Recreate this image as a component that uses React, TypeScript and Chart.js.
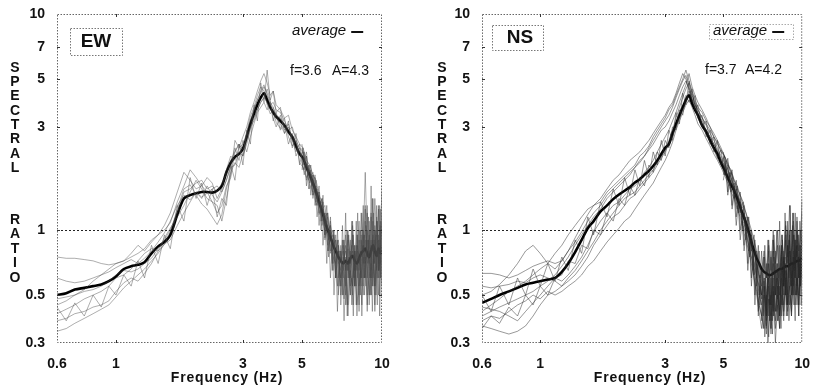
import React, { useEffect, useRef } from "react";
import { Chart, registerables } from "chart.js";
Chart.register(...registerables);

// Frequency grid (Hz) shared by the full-band traces
const F = [
  0.6, 0.65, 0.7, 0.76, 0.82, 0.88, 0.94, 1.0, 1.07, 1.14,
  1.21, 1.28, 1.36, 1.44, 1.52, 1.6, 1.7, 1.8, 1.9, 2.0,
  2.1, 2.2, 2.3, 2.4, 2.5, 2.6, 2.7, 2.8, 2.9, 3.0,
  3.1, 3.2, 3.3, 3.4, 3.5, 3.6, 3.7, 3.8, 3.9, 4.0,
  4.15, 4.3, 4.45, 4.6, 4.75, 4.9, 5.05, 5.2, 5.35, 5.5,
  5.65, 5.8, 5.95, 6.1, 6.25, 6.4, 6.55, 6.7, 6.85, 7.0,
  7.15, 7.3, 7.45, 7.6, 7.75, 7.9, 8.05, 8.2, 8.35, 8.5,
  8.65, 8.8, 8.95, 9.1, 9.25, 9.4, 9.55, 9.7, 9.85, 10.0,
];
// Finer grid for the noisy high-frequency part of the traces
const F_HI = [
  5.0, 5.1, 5.2, 5.3, 5.4, 5.5, 5.6, 5.7, 5.8, 5.9,
  6.0, 6.1, 6.2, 6.3, 6.4, 6.5, 6.6, 6.7, 6.8, 6.9,
  7.0, 7.1, 7.2, 7.3, 7.4, 7.5, 7.6, 7.7, 7.8, 7.9,
  8.0, 8.1, 8.2, 8.3, 8.4, 8.5, 8.6, 8.7, 8.8, 8.9,
  9.0, 9.1, 9.2, 9.3, 9.4, 9.5, 9.6, 9.7, 9.8, 9.9, 10.0,
];

const X_TICKS = [0.6, 1, 3, 5, 10];
const Y_TICKS = [0.3, 0.5, 1, 3, 5, 7, 10];

// ---------- EW ----------
const EW_AVG = [
  0.5, 0.51, 0.53, 0.54, 0.55, 0.56, 0.58, 0.61, 0.66, 0.68,
  0.69, 0.71, 0.78, 0.84, 0.88, 0.95, 1.18, 1.4, 1.45, 1.48,
  1.5, 1.5, 1.49, 1.52, 1.6, 1.85, 2.05, 2.18, 2.25, 2.38,
  2.7, 3.1, 3.45, 3.8, 4.1, 4.3, 4.0, 3.7, 3.5, 3.35,
  3.2, 3.05, 2.85, 2.7, 2.45, 2.25, 2.15, 1.95, 1.8, 1.65,
  1.5, 1.35, 1.22, 1.1, 1.0, 0.93, 0.85, 0.8, 0.75, 0.72,
  0.7, 0.72, 0.7, 0.74, 0.76, 0.72, 0.7, 0.74, 0.78, 0.8,
  0.82, 0.78, 0.75, 0.8, 0.85, 0.8, 0.76, 0.82, 0.78, 0.8,
];
const EW_G1 = [
  0.34, 0.35, 0.37, 0.39, 0.41, 0.43, 0.45, 0.49, 0.54, 0.58,
  0.62, 0.66, 0.72, 0.78, 0.86, 0.98, 1.25, 1.55, 1.62, 1.45,
  1.32, 1.25, 1.15, 1.06, 1.18, 1.55, 1.85, 2.05, 1.95, 2.25,
  2.85, 3.35, 3.7, 4.2, 4.6, 4.4, 3.8, 3.45, 3.6, 3.15,
  2.95, 3.3, 2.7, 2.45, 2.6, 2.05, 1.95, 1.75, 1.9, 1.45,
  1.6, 1.18, 1.3, 0.92, 1.05, 0.78, 0.9, 0.6, 0.85, 0.55,
  0.75, 0.5, 0.82, 0.6, 0.95, 0.55, 0.7, 0.45, 0.9, 0.6,
  1.1, 0.7, 0.5, 0.85, 0.6, 1.0, 0.65, 1.3, 0.7, 1.1,
];
const EW_G2 = [
  0.38, 0.39, 0.41, 0.42, 0.44, 0.45, 0.47, 0.52, 0.57, 0.6,
  0.58, 0.63, 0.7, 0.8, 0.92, 1.02, 1.15, 1.3, 1.5, 1.7,
  1.55, 1.4, 1.35, 1.2, 1.3, 1.6, 1.75, 2.3, 2.5, 2.2,
  2.5, 2.9, 3.3, 3.6, 3.9, 4.1, 4.5, 4.0, 3.3, 3.0,
  3.4, 2.9, 3.1, 2.6, 2.3, 2.5, 2.0, 2.2, 1.65, 1.8,
  1.35, 1.5, 1.05, 1.2, 0.8, 1.0, 0.65, 0.9, 0.5, 0.8,
  0.6, 0.95, 0.45, 0.7, 0.5, 0.85, 0.4, 0.75, 0.55, 1.0,
  0.6, 0.9, 0.45, 0.7, 0.95, 0.5, 0.8, 0.6, 1.05, 0.75,
];
const EW_G3 = [
  0.41, 0.43, 0.45, 0.48, 0.5, 0.52, 0.55, 0.6, 0.62, 0.66,
  0.72, 0.78, 0.82, 0.8, 0.86, 0.9, 1.05, 1.2, 1.35, 1.5,
  1.4, 1.6, 1.45, 1.35, 1.5, 1.7, 2.0, 2.4, 2.1, 2.6,
  2.3, 2.7, 3.1, 3.5, 3.7, 3.9, 3.6, 3.9, 3.2, 3.5,
  2.9, 3.1, 2.5, 2.8, 2.2, 2.4, 1.9, 2.05, 1.55, 1.7,
  1.3, 1.45, 1.1, 1.2, 0.85, 1.1, 0.7, 0.95, 0.6, 0.8,
  0.5, 0.7, 0.4, 0.65, 0.55, 0.8, 0.45, 0.6, 0.7, 0.5,
  0.75, 0.45, 0.65, 0.5, 0.8, 0.42, 0.7, 0.5, 0.9, 0.6,
];
const EW_G4 = [
  0.45, 0.47, 0.5, 0.53, 0.58, 0.62, 0.66, 0.7, 0.72, 0.78,
  0.85, 0.8, 0.88, 0.95, 1.05, 1.2, 1.5, 1.85, 1.7, 1.55,
  1.6, 1.75, 1.65, 1.4, 1.55, 1.9, 2.2, 2.1, 2.4, 2.7,
  3.0, 3.5, 3.9, 4.4, 4.9, 5.3, 4.8, 4.2, 4.4, 3.8,
  3.6, 3.3, 3.4, 2.9, 2.7, 2.5, 2.4, 2.1, 2.0, 1.8,
  1.7, 1.45, 1.35, 1.15, 1.2, 0.95, 1.0, 0.8, 0.9, 0.7,
  0.9, 0.65, 1.0, 0.7, 1.1, 0.65, 0.95, 0.7, 1.2, 0.8,
  1.3, 0.75, 1.1, 0.65, 1.4, 0.8, 1.15, 0.7, 1.25, 0.9,
];
const EW_G5 = [
  0.6, 0.58, 0.57, 0.58, 0.6, 0.62, 0.64, 0.67, 0.7, 0.73,
  0.7, 0.74, 0.8, 0.88, 0.97, 1.1, 1.3, 1.45, 1.38, 1.5,
  1.42, 1.48, 1.55, 1.6, 1.5, 1.7, 1.95, 2.0, 2.3, 2.2,
  2.6, 3.0, 3.2, 3.6, 3.9, 4.1, 3.9, 3.6, 3.7, 3.3,
  3.1, 2.8, 3.0, 2.6, 2.4, 2.2, 2.3, 1.9, 1.75, 1.85,
  1.45, 1.3, 1.4, 1.05, 1.15, 0.9, 0.95, 0.75, 0.8, 0.65,
  0.85, 0.6, 0.95, 0.7, 0.8, 0.55, 0.85, 0.75, 0.6, 0.95,
  0.7, 1.0, 0.75, 0.6, 0.9, 0.7, 1.1, 0.8, 0.6, 0.85,
];
const EW_G6 = [
  0.75, 0.74, 0.74, 0.73, 0.72, 0.7, 0.69, 0.7, 0.72, 0.75,
  0.78, 0.82, 0.9, 0.95, 1.0, 1.08, 1.35, 1.6, 1.9, 1.75,
  1.6, 1.5, 1.35, 1.3, 1.1, 1.4, 1.8, 2.6, 2.4, 2.5,
  2.8, 3.2, 3.6, 4.0, 4.4, 4.7, 4.2, 3.8, 3.9, 3.6,
  3.5, 3.2, 2.9, 3.0, 2.6, 2.4, 2.3, 2.05, 1.9, 1.7,
  1.55, 1.4, 1.25, 1.3, 1.0, 1.05, 0.85, 0.9, 0.7, 0.75,
  0.65, 0.85, 0.6, 0.9, 0.55, 0.8, 0.65, 1.0, 0.6, 0.85,
  0.7, 1.2, 0.65, 0.9, 0.55, 1.05, 0.7, 0.95, 0.6, 1.5,
];
const EW_G7 = [
  0.48, 0.49, 0.5, 0.52, 0.53, 0.55, 0.58, 0.62, 0.65, 0.64,
  0.66, 0.7, 0.74, 0.82, 0.9, 1.0, 1.2, 1.5, 1.55, 1.65,
  1.7, 1.55, 1.6, 1.5, 1.65, 1.8, 2.1, 2.3, 2.5, 2.35,
  2.7, 3.0, 3.6, 4.0, 4.3, 4.6, 4.3, 3.9, 3.7, 3.4,
  3.3, 3.0, 2.8, 2.75, 2.5, 2.3, 2.1, 2.0, 1.85, 1.6,
  1.45, 1.3, 1.15, 1.0, 0.95, 0.85, 0.75, 0.7, 0.8, 0.6,
  0.7, 0.8, 0.65, 0.75, 0.9, 0.6, 0.8, 1.1, 0.7, 0.9,
  1.85, 0.9, 0.7, 1.2, 0.8, 1.4, 0.9, 0.65, 1.1, 0.95,
];
const EW_G8 = [
  0.44, 0.38, 0.46, 0.4, 0.5, 0.44, 0.55, 0.5, 0.62, 0.55,
  0.72, 0.6, 0.85, 0.7, 0.95, 0.82, 1.3, 1.1, 1.75, 1.4,
  1.65, 1.3, 1.55, 1.15, 1.4, 1.3, 2.0, 1.7, 2.5, 2.0,
  2.9, 2.5, 3.8, 3.2, 4.8, 3.9, 5.5, 4.0, 4.4, 3.5,
  3.7, 2.8, 3.2, 2.4, 2.8, 2.0, 2.4, 1.7, 2.0, 1.45,
  1.7, 1.2, 1.4, 0.95, 1.2, 0.8, 1.0, 0.6, 0.85, 0.5,
  0.8, 0.45, 0.9, 0.5, 1.05, 0.55, 0.85, 0.42, 0.95, 0.55,
  1.25, 0.6, 0.95, 0.5, 1.1, 0.55, 1.3, 0.65, 0.85, 0.5,
];
const EW_H1 = [
  2.4, 1.9, 2.2, 1.7, 1.9, 1.5, 1.75, 1.3, 1.5, 1.1,
  1.35, 0.95, 1.2, 0.8, 1.05, 0.7, 0.95, 0.6, 0.9, 0.55,
  0.85, 0.5, 0.9, 0.55, 1.0, 0.6, 0.8, 0.45, 0.95, 0.65,
  1.1, 0.6, 0.9, 0.5, 1.2, 0.7, 0.95, 0.55, 1.3, 0.75,
  1.0, 0.6, 1.4, 0.7, 0.9, 0.5, 1.1, 0.65, 1.3, 0.8, 1.2,
];
const EW_H2 = [
  1.9, 2.3, 1.6, 2.0, 1.45, 1.8, 1.3, 1.55, 1.05, 1.35,
  0.85, 1.15, 0.7, 1.0, 0.6, 0.85, 0.5, 0.75, 0.42, 0.7,
  0.55, 0.9, 0.48, 0.75, 0.4, 0.7, 0.55, 0.85, 0.45, 0.8,
  0.55, 0.95, 0.5, 0.8, 0.4, 0.75, 0.6, 1.05, 0.5, 0.9,
  0.6, 1.15, 0.55, 0.85, 0.45, 1.0, 0.6, 0.8, 0.5, 1.0, 0.7,
];
const EW_H3 = [
  2.1, 1.8, 2.0, 1.55, 1.75, 1.4, 1.6, 1.15, 1.4, 1.0,
  1.25, 0.9, 1.1, 0.75, 1.0, 0.65, 0.85, 0.6, 1.0, 0.7,
  0.6, 1.05, 0.7, 1.2, 0.65, 0.95, 0.7, 1.1, 0.6, 0.85,
  0.7, 1.2, 0.65, 1.0, 0.75, 1.3, 0.6, 0.9, 0.7, 1.15,
  0.75, 1.6, 0.8, 1.2, 0.7, 0.95, 0.75, 1.25, 0.65, 1.05, 1.6,
];
const EW_H4 = [
  2.5, 2.1, 2.3, 1.85, 2.0, 1.6, 1.8, 1.4, 1.6, 1.2,
  1.45, 1.05, 1.3, 0.9, 1.15, 0.8, 1.0, 0.7, 0.55, 0.8,
  0.45, 0.65, 0.38, 0.6, 0.45, 0.75, 0.5, 0.6, 0.4, 0.7,
  0.45, 0.8, 0.55, 0.65, 0.45, 0.85, 0.5, 0.7, 0.42, 0.75,
  0.5, 0.7, 0.42, 0.8, 0.55, 0.7, 0.45, 0.9, 0.4, 0.75, 0.55,
];

// ---------- NS ----------
const NS_AVG = [
  0.46, 0.48, 0.5, 0.52, 0.54, 0.56, 0.57, 0.58, 0.59, 0.6,
  0.64, 0.7, 0.79, 0.9, 1.02, 1.1, 1.22, 1.3, 1.39, 1.46,
  1.52, 1.58, 1.66, 1.72, 1.8, 1.88, 1.98, 2.1, 2.25, 2.4,
  2.5, 2.8, 3.1, 3.4, 3.7, 4.0, 4.2, 3.85, 3.6, 3.4,
  3.05, 2.85, 2.6, 2.4, 2.25, 2.05, 1.9, 1.75, 1.62, 1.52,
  1.4, 1.28, 1.17, 1.08, 0.98, 0.88, 0.8, 0.74, 0.7, 0.66,
  0.64, 0.63, 0.62, 0.62, 0.63, 0.64, 0.65, 0.66, 0.66, 0.67,
  0.68, 0.68, 0.69, 0.7, 0.7, 0.71, 0.72, 0.72, 0.73, 0.74,
];
const NS_G1 = [
  0.4, 0.42, 0.44, 0.46, 0.48, 0.5, 0.52, 0.55, 0.58, 0.62,
  0.68, 0.75, 0.85, 0.95, 1.05, 1.15, 1.25, 1.4, 1.5, 1.6,
  1.7, 1.8, 1.95, 2.1, 2.2, 2.4, 2.6, 2.8, 3.0, 3.2,
  3.4, 3.7, 4.1, 4.5, 4.9, 5.2, 4.6, 4.1, 3.8, 3.5,
  3.2, 2.9, 2.7, 2.5, 2.35, 2.1, 2.0, 1.85, 1.7, 1.55,
  1.4, 1.3, 1.1, 1.0, 0.85, 0.75, 0.65, 0.55, 0.45, 0.4,
  0.35, 0.5, 0.32, 0.55, 0.4, 0.65, 0.38, 0.6, 0.45, 0.75,
  0.5, 0.85, 0.45, 0.7, 0.55, 0.9, 0.5, 0.75, 0.6, 1.2,
];
const NS_G2 = [
  0.44, 0.43, 0.42, 0.4, 0.38, 0.42, 0.46, 0.5, 0.55, 0.6,
  0.58, 0.62, 0.68, 0.75, 0.85, 0.98, 1.1, 1.2, 1.3, 1.35,
  1.45, 1.55, 1.6, 1.7, 1.85, 1.95, 2.1, 2.3, 2.5, 2.7,
  2.9, 3.2, 3.5, 3.9, 4.3, 4.7, 5.3, 4.6, 4.2, 3.9,
  3.6, 3.3, 3.0, 2.8, 2.6, 2.4, 2.2, 2.0, 1.9, 1.7,
  1.55, 1.45, 1.3, 1.2, 1.05, 0.95, 0.85, 0.7, 0.6, 0.5,
  0.6, 0.42, 0.7, 0.45, 0.8, 0.5, 0.65, 0.4, 0.75, 0.55,
  0.9, 0.6, 1.0, 0.55, 0.8, 0.65, 1.1, 0.7, 0.6, 0.95,
];
const NS_G3 = [
  0.63, 0.63, 0.62, 0.6, 0.62, 0.65, 0.68, 0.7, 0.72, 0.7,
  0.72, 0.8, 0.92, 1.05, 1.18, 1.3, 1.35, 1.5, 1.6, 1.7,
  1.8, 1.9, 2.0, 2.2, 2.3, 2.45, 2.7, 2.9, 3.1, 3.3,
  3.6, 3.8, 4.2, 4.6, 5.0, 5.5, 4.9, 4.4, 4.0, 3.7,
  3.5, 3.2, 3.0, 2.7, 2.55, 2.3, 2.2, 2.0, 1.85, 1.65,
  1.5, 1.35, 1.25, 1.1, 1.0, 0.9, 0.8, 0.7, 0.62, 0.55,
  0.75, 0.5, 0.85, 0.55, 0.9, 0.6, 1.0, 0.65, 0.8, 0.55,
  1.05, 0.7, 0.9, 0.55, 1.2, 0.75, 0.85, 0.6, 1.0, 0.8,
];
const NS_G4 = [
  0.36, 0.35, 0.34, 0.33, 0.34, 0.36, 0.4, 0.45, 0.5, 0.52,
  0.55, 0.58, 0.62, 0.68, 0.75, 0.85, 0.95, 1.05, 1.15, 1.2,
  1.3, 1.4, 1.45, 1.55, 1.65, 1.75, 1.85, 2.0, 2.15, 2.3,
  2.5, 2.7, 3.0, 3.3, 3.6, 3.9, 4.4, 4.0, 3.6, 3.3,
  3.0, 2.8, 2.55, 2.35, 2.15, 2.0, 1.85, 1.7, 1.55, 1.45,
  1.3, 1.2, 1.05, 0.95, 0.85, 0.75, 0.6, 0.5, 0.42, 0.35,
  0.45, 0.33, 0.55, 0.38, 0.6, 0.35, 0.5, 0.4, 0.65, 0.45,
  0.55, 0.4, 0.7, 0.45, 0.6, 0.38, 0.8, 0.5, 0.65, 0.45,
];
const NS_G5 = [
  0.5, 0.52, 0.56, 0.62, 0.7, 0.8, 0.85, 0.78, 0.7, 0.66,
  0.72, 0.8, 0.88, 0.98, 1.1, 1.2, 1.3, 1.45, 1.55, 1.65,
  1.75, 1.85, 1.95, 2.05, 2.2, 2.35, 2.5, 2.7, 2.9, 3.0,
  3.2, 3.5, 3.8, 4.2, 4.6, 4.9, 4.5, 4.2, 3.9, 3.6,
  3.3, 3.05, 2.8, 2.6, 2.4, 2.2, 2.05, 1.9, 1.75, 1.6,
  1.45, 1.3, 1.2, 1.05, 0.95, 0.8, 0.7, 0.6, 0.55, 0.48,
  0.58, 0.4, 0.62, 0.45, 0.7, 0.42, 0.6, 0.5, 0.85, 0.55,
  0.7, 0.5, 0.95, 0.6, 0.75, 0.5, 0.9, 0.65, 0.55, 0.7,
];
const NS_G6 = [
  0.55, 0.54, 0.55, 0.56, 0.58, 0.57, 0.6, 0.62, 0.6, 0.58,
  0.55, 0.6, 0.65, 0.72, 0.8, 0.88, 1.0, 1.1, 1.2, 1.3,
  1.4, 1.45, 1.5, 1.6, 1.7, 1.8, 1.9, 2.05, 2.2, 2.35,
  2.6, 2.9, 3.3, 3.7, 4.1, 4.5, 4.8, 4.3, 3.8, 3.4,
  3.1, 2.9, 2.7, 2.5, 2.3, 2.15, 1.95, 1.8, 1.65, 1.5,
  1.35, 1.25, 1.15, 1.05, 0.95, 0.85, 0.72, 0.62, 0.5, 0.45,
  0.55, 0.38, 0.6, 0.35, 0.55, 0.3, 0.45, 0.35, 0.6, 0.4,
  0.65, 0.45, 0.55, 0.4, 0.75, 0.5, 0.6, 0.45, 0.85, 0.55,
];
const NS_G7 = [
  0.42, 0.45, 0.48, 0.52, 0.55, 0.58, 0.62, 0.66, 0.7, 0.78,
  0.85, 0.95, 1.05, 1.15, 1.25, 1.3, 1.4, 1.55, 1.7, 1.8,
  1.95, 2.1, 2.2, 2.3, 2.45, 2.6, 2.8, 3.0, 3.2, 3.4,
  3.7, 3.9, 4.3, 4.8, 5.3, 5.0, 4.4, 4.0, 3.8, 3.6,
  3.3, 3.1, 2.9, 2.7, 2.5, 2.35, 2.2, 2.05, 1.85, 1.7,
  1.6, 1.45, 1.35, 1.2, 1.1, 1.0, 0.9, 0.8, 0.7, 0.65,
  0.8, 0.6, 0.9, 0.65, 1.0, 0.7, 0.85, 0.6, 0.95, 0.7,
  1.1, 0.75, 1.3, 0.8, 0.95, 0.7, 1.15, 0.8, 0.9, 1.4,
];
const NS_G8 = [
  0.38, 0.4, 0.39, 0.42, 0.45, 0.47, 0.5, 0.48, 0.52, 0.5,
  0.52, 0.55, 0.58, 0.62, 0.68, 0.72, 0.8, 0.88, 0.95, 1.02,
  1.1, 1.15, 1.25, 1.35, 1.45, 1.55, 1.65, 1.8, 1.95, 2.1,
  2.3, 2.55, 2.9, 3.2, 3.5, 3.8, 4.0, 3.7, 3.4, 3.1,
  2.9, 2.65, 2.45, 2.25, 2.1, 1.95, 1.8, 1.65, 1.5, 1.4,
  1.25, 1.15, 1.0, 0.9, 0.8, 0.7, 0.6, 0.52, 0.45, 0.4,
  0.5, 0.36, 0.48, 0.33, 0.52, 0.38, 0.55, 0.42, 0.5, 0.38,
  0.6, 0.42, 0.55, 0.4, 0.7, 0.45, 0.6, 0.4, 0.75, 0.5,
];
const NS_G9 = [
  0.5, 0.42, 0.55, 0.45, 0.6, 0.5, 0.66, 0.55, 0.7, 0.58,
  0.75, 0.65, 0.9, 0.78, 1.15, 0.95, 1.35, 1.15, 1.55, 1.3,
  1.75, 1.45, 1.9, 1.6, 2.1, 1.75, 2.3, 2.0, 2.6, 2.2,
  2.9, 2.6, 3.5, 3.1, 4.3, 3.8, 4.9, 3.9, 4.2, 3.3,
  3.4, 2.7, 2.9, 2.3, 2.6, 2.0, 2.2, 1.7, 1.85, 1.4,
  1.6, 1.2, 1.35, 0.95, 1.15, 0.8, 0.95, 0.6, 0.8, 0.5,
  0.75, 0.45, 0.8, 0.4, 0.9, 0.5, 0.7, 0.35, 0.85, 0.5,
  0.95, 0.45, 0.8, 0.5, 1.1, 0.6, 0.85, 0.45, 0.7, 0.9,
];
const NS_G10 = [
  0.35, 0.4, 0.37, 0.44, 0.4, 0.5, 0.45, 0.55, 0.5, 0.6,
  0.62, 0.72, 0.7, 0.85, 0.82, 1.0, 0.95, 1.2, 1.1, 1.4,
  1.3, 1.6, 1.45, 1.75, 1.6, 2.0, 1.85, 2.3, 2.1, 2.6,
  2.4, 3.0, 2.9, 3.6, 3.4, 4.2, 3.9, 4.5, 3.6, 3.8,
  3.0, 3.2, 2.5, 2.7, 2.15, 2.35, 1.8, 1.95, 1.5, 1.65,
  1.25, 1.4, 1.0, 1.15, 0.8, 0.95, 0.62, 0.8, 0.5, 0.65,
  0.45, 0.7, 0.4, 0.75, 0.42, 0.8, 0.48, 0.65, 0.4, 0.72,
  0.5, 0.85, 0.55, 1.0, 0.5, 0.75, 0.45, 0.95, 0.55, 0.8,
];
const NS_H1 = [
  2.2, 1.8, 2.0, 1.6, 1.75, 1.4, 1.55, 1.2, 1.35, 1.05,
  1.2, 0.9, 1.05, 0.75, 0.9, 0.65, 0.8, 0.55, 0.7, 0.45,
  0.65, 0.4, 0.6, 0.35, 0.7, 0.45, 0.6, 0.38, 0.75, 0.5,
  0.7, 0.45, 0.85, 0.5, 0.95, 0.55, 0.75, 0.45, 1.1, 0.6,
  0.8, 0.5, 1.2, 0.6, 0.9, 0.55, 1.0, 0.6, 0.85, 0.65, 1.0,
];
const NS_H2 = [
  1.8, 2.1, 1.5, 1.85, 1.3, 1.6, 1.15, 1.4, 1.0, 1.2,
  0.85, 1.05, 0.7, 0.95, 0.6, 0.8, 0.5, 0.7, 0.42, 0.62,
  0.38, 0.55, 0.32, 0.5, 0.3, 0.48, 0.35, 0.55, 0.4, 0.6,
  0.42, 0.65, 0.4, 0.7, 0.45, 0.8, 0.5, 0.65, 0.45, 0.9,
  0.55, 0.8, 0.5, 0.95, 0.6, 1.0, 0.55, 0.75, 0.5, 0.7, 0.6,
];
const NS_H3 = [
  2.3, 1.95, 2.15, 1.75, 1.9, 1.5, 1.7, 1.35, 1.5, 1.15,
  1.3, 1.0, 1.15, 0.85, 1.0, 0.75, 0.9, 0.65, 0.85, 0.6,
  0.8, 0.55, 0.85, 0.6, 0.9, 0.6, 0.8, 0.55, 0.95, 0.65,
  1.0, 0.6, 1.1, 0.65, 0.9, 0.6, 1.2, 0.7, 1.0, 0.65,
  1.3, 0.7, 1.05, 0.65, 1.2, 0.75, 0.95, 0.6, 1.1, 0.7, 1.35,
];
const NS_H4 = [
  1.7, 1.95, 1.45, 1.7, 1.25, 1.45, 1.05, 1.3, 0.9, 1.1,
  0.8, 0.95, 0.65, 0.85, 0.55, 0.75, 0.45, 0.65, 0.4, 0.55,
  0.5, 0.35, 0.55, 0.4, 0.6, 0.38, 0.5, 0.33, 0.55, 0.42,
  0.6, 0.38, 0.55, 0.35, 0.65, 0.42, 0.7, 0.4, 0.6, 0.38,
  0.5, 0.42, 0.65, 0.45, 0.75, 0.5, 0.6, 0.4, 0.7, 0.45, 0.5,
];

const EW_LABEL = "EW";
const NS_LABEL = "NS";
const EW_PEAK = ["f=3.6", "A=4.3"];
const NS_PEAK = ["f=3.7", "A=4.2"];
const Y_TITLE_WORDS = ["SPECTRAL", "RATIO"];
const X_TITLE = "Frequency (Hz)";
const LEGEND_TEXT = "average";

const FONT = '"Liberation Sans", Arial, Helvetica, sans-serif';

const PANELS = [
  {
    key: "ew", label: EW_LABEL, peak: EW_PEAK, avg: EW_AVG,
    greys: [EW_G1, EW_G2, EW_G3, EW_G4, EW_G5, EW_G6, EW_G7, EW_G8],
    highs: [EW_H1, EW_H2, EW_H3, EW_H4],
    greyColor: "rgba(70,70,70,0.55)",
    left: 0, width: 410, padRight: 28, yAxisW: 57,
    box: [70, 28, 52, 27], boxText: [96, 42],
    legend: { x: 292, y: 31, box: null },
    peakPos: { x1: 290, x2: 332, y: 71 },
    titleX: 15, xTitleX: 227,
  },
  {
    key: "ns", label: NS_LABEL, peak: NS_PEAK, avg: NS_AVG,
    greys: [NS_G1, NS_G2, NS_G3, NS_G4, NS_G5, NS_G6, NS_G7, NS_G8, NS_G9, NS_G10],
    highs: [NS_H1, NS_H2, NS_H3, NS_H4],
    greyColor: "rgba(40,40,40,0.6)",
    left: 410, width: 405, padRight: 9, yAxisW: 72,
    box: [82, 25, 51, 25], boxText: [110, 38],
    legend: { x: 303, y: 31, box: [299, 24, 84, 15] },
    peakPos: { x1: 295, x2: 335, y: 70 },
    titleX: 32, xTitleX: 240,
  },
];

const H = 386;

function makeOverlay(p: any) {
  return {
    id: "overlay_" + p.key,
    beforeDatasetsDraw(chart: any) {
      const { ctx, chartArea: a, scales } = chart;
      const yy = Math.round(scales.y.getPixelForValue(1)) + 0.5;
      ctx.save();
      ctx.setLineDash([2, 2]);
      ctx.strokeStyle = "#222";
      ctx.lineWidth = 1;
      ctx.beginPath();
      ctx.moveTo(a.left, yy);
      ctx.lineTo(a.right, yy);
      ctx.stroke();
      ctx.restore();
    },
    afterDraw(chart: any) {
      const { ctx, chartArea: a, scales } = chart;
      ctx.save();
      ctx.setLineDash([1.5, 1.5]);
      ctx.strokeStyle = "#666";
      ctx.lineWidth = 1;
      ctx.strokeRect(a.left + 0.5, a.top + 0.5, a.right - a.left - 1, a.bottom - a.top - 1);
      ctx.setLineDash([]);
      ctx.strokeStyle = "#333";
      for (const v of Y_TICKS) {
        if (v === 0.3 || v === 10) continue;
        const py = Math.round(scales.y.getPixelForValue(v)) + 0.5;
        ctx.beginPath();
        ctx.moveTo(a.left, py); ctx.lineTo(a.left + 3, py);
        ctx.moveTo(a.right, py); ctx.lineTo(a.right - 3, py);
        ctx.stroke();
      }
      for (const v of X_TICKS) {
        if (v === 0.6 || v === 10) continue;
        const px = Math.round(scales.x.getPixelForValue(v)) + 0.5;
        ctx.beginPath();
        ctx.moveTo(px, a.bottom); ctx.lineTo(px, a.bottom - 3);
        ctx.moveTo(px, a.top); ctx.lineTo(px, a.top + 3);
        ctx.stroke();
      }
      ctx.setLineDash([1.5, 1.5]);
      ctx.strokeStyle = "#777";
      const [bx, by, bw, bh] = p.box;
      ctx.strokeRect(bx + 0.5, by + 0.5, bw, bh);
      if (p.legend.box) {
        const [lbx, lby, lbw, lbh] = p.legend.box;
        ctx.strokeStyle = "#aaa";
        ctx.strokeRect(lbx + 0.5, lby + 0.5, lbw, lbh);
      }
      ctx.setLineDash([]);
      ctx.fillStyle = "#111";
      ctx.font = `bold 19px ${FONT}`;
      ctx.textAlign = "center";
      ctx.textBaseline = "middle";
      ctx.fillText(p.label, p.boxText[0], p.boxText[1]);
      ctx.font = `italic 15px ${FONT}`;
      ctx.textAlign = "left";
      ctx.fillText(LEGEND_TEXT, p.legend.x, p.legend.y);
      const tw = ctx.measureText(LEGEND_TEXT).width;
      ctx.lineWidth = 2;
      ctx.strokeStyle = "#111";
      ctx.beginPath();
      ctx.moveTo(p.legend.x + tw + 5, p.legend.y + 1);
      ctx.lineTo(p.legend.x + tw + 17, p.legend.y + 1);
      ctx.stroke();
      ctx.lineWidth = 1;
      ctx.font = `14px ${FONT}`;
      ctx.fillText(p.peak[0], p.peakPos.x1, p.peakPos.y);
      ctx.fillText(p.peak[1], p.peakPos.x2, p.peakPos.y);
      ctx.font = `bold 14px ${FONT}`;
      ctx.textAlign = "center";
      const w1 = Y_TITLE_WORDS[0];
      for (let i = 0; i < w1.length; i++) ctx.fillText(w1[i], p.titleX, 68 + i * 14.3);
      const w2 = Y_TITLE_WORDS[1];
      for (let i = 0; i < w2.length; i++) ctx.fillText(w2[i], p.titleX, 220 + i * 14.5);
      ctx.font = `bold 14px ${FONT}`;
      (ctx as any).letterSpacing = "0.8px";
      ctx.fillText(X_TITLE, p.xTitleX, 378);
      (ctx as any).letterSpacing = "0px";
      ctx.restore();
    },
  };
}

function Panel({ p }: { p: any }) {
  const ref = useRef<HTMLCanvasElement | null>(null);
  useEffect(() => {
    if (!ref.current) return;
    const toPts = (xs: number[], arr: number[]) =>
      arr.map((y, i) => ({ x: xs[i], y })).filter((d) => d.x !== undefined);
    const greyDs = (xs: number[]) => (g: number[]) => ({
      data: toPts(xs, g),
      borderColor: p.greyColor,
      borderWidth: 0.8,
      pointRadius: 0,
      tension: 0,
    });
    // Chart.js paints the first dataset on top; the noisy traces go first so
    // the average is partly hidden inside the dense high-frequency cloud.
    const datasets: any[] = [
      ...p.highs.map(greyDs(F_HI)),
      ...p.greys.map(greyDs(F)),
      {
        data: toPts(F, p.avg),
        borderColor: "#000",
        borderWidth: 2.6,
        pointRadius: 0,
        tension: 0.3,
      },
    ];
    const chart = new Chart(ref.current, {
      type: "line",
      data: { datasets },
      options: {
        animation: false,
        responsive: false,
        devicePixelRatio: 1,
        parsing: false as any,
        layout: { padding: { left: 0, right: p.padRight, top: 14, bottom: 0 } },
        plugins: { legend: { display: false }, tooltip: { enabled: false } },
        scales: {
          x: {
            type: "logarithmic",
            min: 0.6,
            max: 10,
            grid: { display: false },
            border: { display: false },
            afterBuildTicks: (s: any) => { s.ticks = X_TICKS.map((v) => ({ value: v })); },
            afterFit: (s: any) => { s.height = 43; },
            ticks: {
              color: "#111",
              padding: 5,
              maxRotation: 0,
              autoSkip: false,
              font: { family: FONT, size: 14, weight: "bold" },
              callback: (v: any) => String(v),
            },
          },
          y: {
            type: "logarithmic",
            min: 0.3,
            max: 10,
            grid: { display: false },
            border: { display: false },
            afterBuildTicks: (s: any) => { s.ticks = Y_TICKS.map((v) => ({ value: v })); },
            afterFit: (s: any) => { s.width = p.yAxisW; },
            ticks: {
              color: "#111",
              padding: 4,
              autoSkip: false,
              font: { family: FONT, size: 14, weight: "bold" },
              callback: (v: any) => String(v),
            },
          },
        },
      } as any,
      plugins: [makeOverlay(p)],
    });
    return () => chart.destroy();
  }, [p]);
  return (
    <canvas
      ref={ref}
      width={p.width}
      height={H}
      style={{ position: "absolute", left: p.left, top: 0, width: p.width, height: H }}
    />
  );
}

export default function App() {
  return (
    <div style={{ position: "fixed", left: 0, top: 0, width: 815, height: H, background: "#fff", overflow: "hidden" }}>
      {PANELS.map((p) => (
        <Panel key={p.key} p={p} />
      ))}
    </div>
  );
}
